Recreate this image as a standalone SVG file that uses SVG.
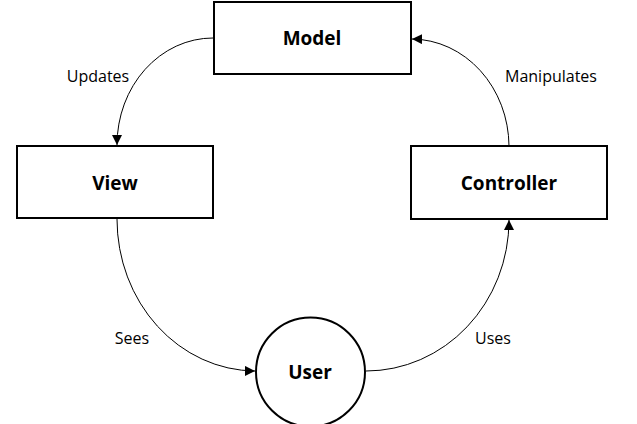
<svg xmlns="http://www.w3.org/2000/svg" width="637" height="424" viewBox="0 0 637 424">
<defs>
<style>
.box{fill:#fff;stroke:#000;stroke-width:2}
.title{font-family:"Open Sans","Noto Sans",sans-serif;font-weight:bold;font-size:19px;text-anchor:middle;fill:#000}
.lbl{font-family:"Open Sans","Noto Sans",sans-serif;font-size:16px;text-anchor:middle;fill:#000}
.edge{fill:none;stroke:#000;stroke-width:1;marker-end:url(#arr)}
</style>
<marker id="arr" viewBox="0 0 10 10" refX="10" refY="5" markerWidth="10" markerHeight="10" markerUnits="userSpaceOnUse" orient="auto">
<path d="M0,0 L10,5 L0,10 Z" fill="#000"/>
</marker>
</defs>
<rect width="637" height="424" fill="#fff"/>
<g id="connectors">
<path class="edge" d="M213,38 A96 107 0 0 0 117,145"/>
<path class="edge" d="M509,146 A98 108 0 0 0 412,39"/>
<path class="edge" d="M117,219 A139 152 0 0 0 255,371"/>
<path class="edge" d="M366,371 A143 151 0 0 0 509,220"/>
<text class="lbl" x="98" y="82">Updates</text>
<text class="lbl" x="551" y="82">Manipulates</text>
<text class="lbl" x="132" y="344">Sees</text>
<text class="lbl" x="493" y="344">Uses</text>
</g>
<g id="model">
<rect class="box" x="214" y="2" width="197" height="72"/>
<text class="title" x="312" y="45">Model</text>
</g>
<g id="view">
<rect class="box" x="17" y="146" width="196" height="72"/>
<text class="title" x="115" y="190">View</text>
</g>
<g id="controller">
<rect class="box" x="411" y="146" width="196" height="73"/>
<text class="title" x="509" y="190">Controller</text>
</g>
<g id="user">
<circle class="box" cx="310.5" cy="372" r="54.5"/>
<text class="title" x="310" y="379">User</text>
</g>
</svg>
